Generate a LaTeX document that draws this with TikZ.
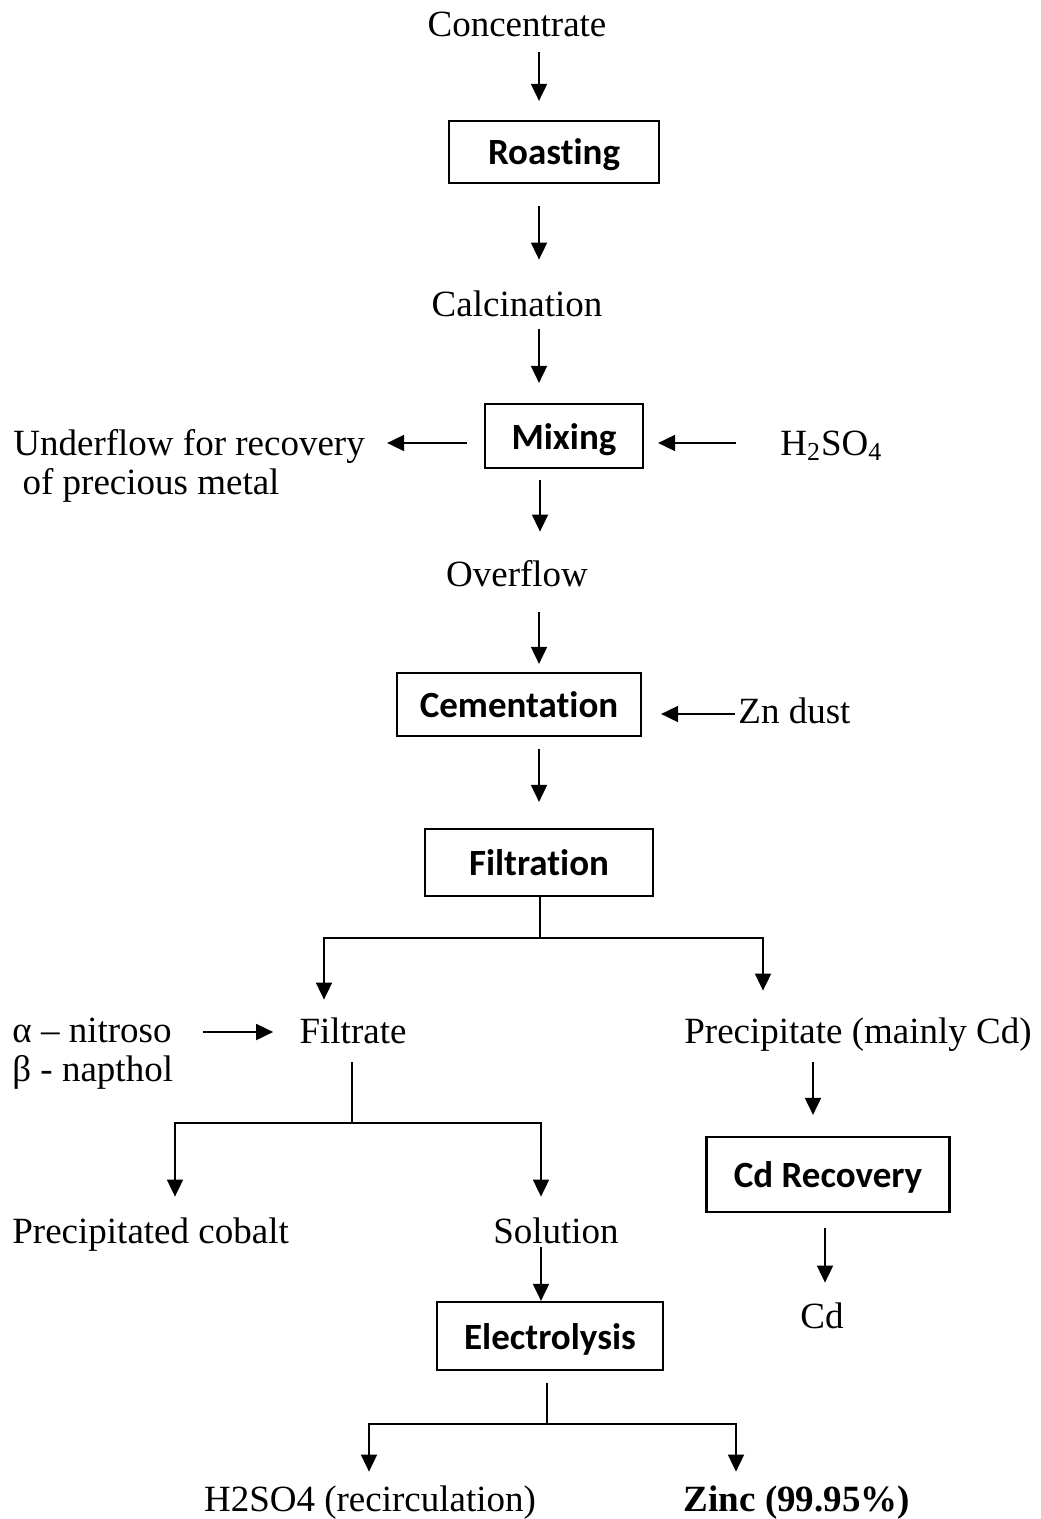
\documentclass[tikz,border=0pt]{standalone}
\usepackage{fontspec}
\setmainfont{Liberation Serif}
\newfontfamily\boxfont{Carlito}[Ligatures={NoCommon,NoRequired,NoContextual}]
\usetikzlibrary{arrows.meta}
\begin{document}
\begin{tikzpicture}[x=0.5pt,y=-0.5pt,
  every node/.style={font=\fontsize{18.5}{19.5}\selectfont},
  txt/.style={inner sep=0pt, text height=13pt, text depth=4pt},
  multi/.style={inner sep=0pt, align=left, anchor=north west},
  boxnode/.style={draw, line width=1.1pt, font=\fontsize{18.5}{19.5}\selectfont\boxfont\bfseries, text height=13pt, text depth=0pt, inner sep=0pt},
  arr/.style={line width=0.9pt, -{Triangle[length=8.5pt,width=8pt]}},
  ln/.style={line width=0.9pt}]
\useasboundingbox (0,0) rectangle (1040,1519);

% nodes
\node[txt, anchor=base] (conc) at (517,37) {Concentrate};
\node[boxnode, minimum width=105pt, minimum height=31pt] (roast) at (554,152) {Roasting};
\node[txt, anchor=base] (calc) at (517,317) {Calcination};
\node[boxnode, minimum width=79pt, minimum height=32pt] (mix) at (564,436) {Mixing};
\node[multi] (under) at (13,429) {Underflow for recovery\\\ of precious metal};
\node[txt, anchor=base west] (h2) at (780,455) {H\textsubscript{2}SO\textsubscript{4}};
\node[txt, anchor=base] (over) at (517,586) {Overflow};
\node[boxnode, minimum width=122pt, minimum height=31.5pt] (cem) at (519,704.5) {Cementation};
\node[txt, anchor=base west] (zn) at (738,723) {Zn dust};
\node[boxnode, minimum width=114pt, minimum height=33.5pt] (filt) at (539,862.5) {Filtration};
\node[multi] (alpha) at (12,1018) {α – nitroso\\β - napthol};
\node[txt, anchor=base] (filtrate) at (353,1043) {Filtrate};
\node[txt, anchor=base] (prec) at (858,1043) {Precipitate (mainly Cd)};
\node[txt, anchor=base west] (cobalt) at (12,1243) {Precipitated cobalt};
\node[txt, anchor=base] (sol) at (556,1243) {Solution};
\node[boxnode, minimum width=121.5pt, minimum height=37.5pt] (cdr) at (828,1174.5) {Cd Recovery};
\node[txt, anchor=base] (cd) at (822,1328) {Cd};
\node[boxnode, minimum width=113pt, minimum height=34pt] (elec) at (550,1336) {Electrolysis};
\node[txt, anchor=base] (h2rec) at (370,1511) {H2SO4 (recirculation)};
\node[txt, anchor=base] (zinc) at (797,1511) {\textbf{Zinc (99.95\%)}};

% helper coordinates
\coordinate (cx) at (539,0);
\coordinate (cx2) at (540,0);
\coordinate (my) at (0,443);
\coordinate (fj) at (540,938);
\coordinate (fl) at (324,0);
\coordinate (fr) at (763,0);
\coordinate (ay) at (0,1032);
\coordinate (gj) at (352,1123);
\coordinate (gl) at (175,0);
\coordinate (gr) at (541,0);
\coordinate (px) at (813,0);
\coordinate (qx) at (825,0);
\coordinate (ej) at (547,1424);
\coordinate (el) at (369,0);
\coordinate (er) at (736,0);

% connectors
\draw[arr, shorten <=3.5pt, shorten >=9.5pt] (conc.south -| cx) -- (roast.north -| cx);
\draw[arr, shorten <=11pt, shorten >=15.5pt] (roast.south -| cx) -- (calc.north -| cx);
\draw[arr, shorten <=2pt, shorten >=10pt] (calc.south -| cx) -- (mix.north -| cx);
\draw[arr, shorten <=8.5pt, shorten >=11pt] (mix.west |- my) -- (under.east |- my);
\draw[arr, shorten <=22pt, shorten >=7pt] (h2.west |- my) -- (mix.east |- my);
\draw[arr, shorten <=5.5pt, shorten >=14pt] (mix.south -| cx2) -- (over.north -| cx2);
\draw[arr, shorten <=9pt, shorten >=4pt] (over.south -| cx) -- (cem.north -| cx);
\draw[arr, shorten <=1.5pt, shorten >=9.5pt] (zn.west) -- (cem.east |- zn.west);
\draw[arr, shorten <=6pt, shorten >=13pt] (cem.south -| cx) -- (filt.north -| cx);
\draw[ln] (filt.south -| fj) -- (fj);
\draw[arr, shorten >=8.5pt] (fj) -| (filtrate.north -| fl);
\draw[arr, shorten >=13pt] (fj) -| (prec.north -| fr);
\draw[arr, shorten <=15pt, shorten >=13pt] (alpha.east |- ay) -- (filtrate.west |- ay);
\draw[ln, shorten <=5.5pt] (filtrate.south -| gj) -- (gj);
\draw[arr, shorten >=10pt] (gj) -| (cobalt.north -| gl);
\draw[arr, shorten >=10pt] (gj) -| (sol.north -| gr);
\draw[arr, shorten <=5.5pt, shorten >=10.5pt] (prec.south -| px) -- (cdr.north -| px);
\draw[arr, shorten <=7.5pt, shorten >=9.5pt] (cdr.south -| qx) -- (cd.north -| qx);
\draw[arr, shorten <=-2pt] (sol.south -| gr) -- (elec.north -| gr);
\draw[ln, shorten <=6pt] (elec.south -| ej) -- (ej);
\draw[arr, shorten >=6.5pt] (ej) -| (h2rec.north -| el);
\draw[arr, shorten >=6.5pt] (ej) -| (zinc.north -| er);
\end{tikzpicture}
\end{document}
